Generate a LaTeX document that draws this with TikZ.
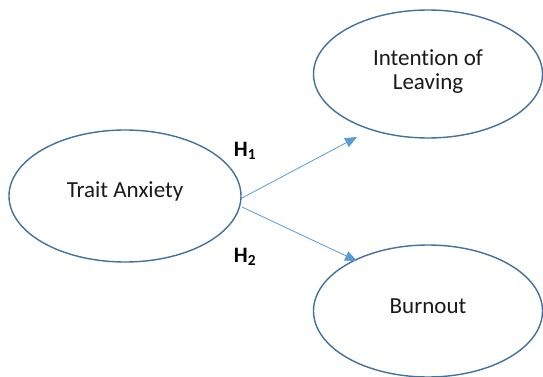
\documentclass[tikz,border=0pt]{standalone}
\usepackage{fontspec}
\setmainfont[RawFeature=-liga]{Carlito}
\usetikzlibrary{arrows.meta,shapes.geometric}
\definecolor{ellblue}{HTML}{41719C}
\definecolor{arrblue}{HTML}{5B9BD5}
\definecolor{txt}{HTML}{1A1A1A}
\begin{document}
\begin{tikzpicture}[x=1pt,y=-1pt,
  var/.style={draw=ellblue,line width=1.4pt,fill=white,ellipse,inner sep=0pt,text=txt,
    minimum width=229pt,minimum height=130pt,font=\fontsize{23}{28}\selectfont,align=center},
  link/.style={draw=arrblue,line width=0.8pt,-{Triangle[length=12pt,width=10pt]}},
  hyp/.style={font=\fontsize{22}{26}\selectfont\bfseries}]
\useasboundingbox (0,0) rectangle (543,377);
\path[clip] (0,0) rectangle (543,377);
\node[var,minimum width=232pt,minimum height=132pt] (ta) at (125,196) {\raisebox{12pt}{Trait Anxiety}};
\node[var,minimum height=128pt] (il) at (428,74) {\raisebox{8pt}{\shortstack{Intention of\\[5pt]Leaving}}};
\node[var,minimum height=132pt] (bo) at (428,311) {\raisebox{9pt}{Burnout}};
\coordinate (s1) at (242,198);
\coordinate (s2) at (242,207);
\coordinate (e1) at (357,137);
\coordinate (e2) at (357,261);
\draw[link] (s1) -- (e1);
\draw[link] (s2) -- (e2);
\node[hyp] (h1) at (245,151) {H\textsubscript{1}};
\node[hyp] (h2) at (245,257) {H\textsubscript{2}};
\end{tikzpicture}
\end{document}
